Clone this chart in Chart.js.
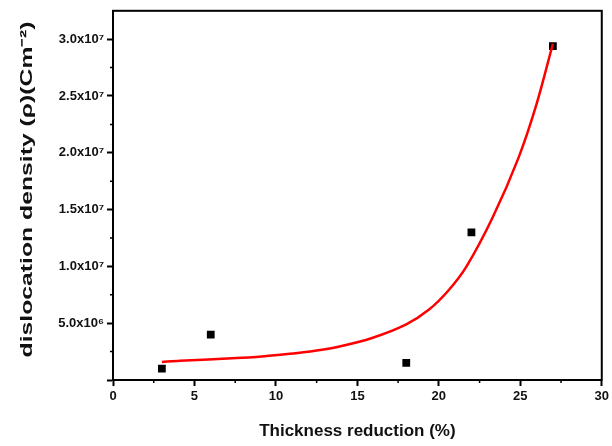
<!DOCTYPE html>
<html>
<head>
<meta charset="utf-8">
<script src="https://cdn.jsdelivr.net/npm/chart.js@4.4.0/dist/chart.umd.min.js"></script>
<style>
  html, body { margin: 0; padding: 0; background: #fff; }
  #wrap { width: 612px; height: 446px; }
</style>
</head>
<body>
<div id="wrap"><canvas id="grafico" width="612" height="446"></canvas></div>
<script>
// Pontos medidos (redução de espessura % x densidade de discordâncias)
const reducao = [3, 6, 18, 22, 27];
const densidade = [1.0e6, 4.0e6, 1.5e6, 1.3e7, 2.94e7];

// Curva de ajuste (vermelha)
const ajusteX = [3, 4.1, 7.6, 9.3, 10.7, 12.5, 13.9, 15.9, 18, 19.4, 20.6, 21.7, 23.3, 24.9, 26, 27];
const ajusteY = [1.58e6, 1.7e6, 1.93e6, 2.1e6, 2.28e6, 2.6e6, 2.95e6, 3.7e6, 4.9e6, 6.2e6, 7.9e6, 1.0e7, 1.43e7, 1.96e7, 2.43e7, 2.96e7];

// Tiques do eixo Y
const ticksY = [0, 5e6, 1e7, 1.5e7, 2e7, 2.5e7, 3e7];
const superscritos = { '6': '⁶', '7': '⁷' };
const tituloX = 'Thickness reduction (%)';
const tituloY = 'dislocation density (ρ)(Cm⁻²)';

const fonte = '"Liberation Sans", Arial, sans-serif';

// Formata 5.0x10⁶, 1.0x10⁷ ...
function formatarY(v) {
  if (v === 0) return '';
  const exp = Math.floor(Math.log10(v));
  const mant = (v / Math.pow(10, exp)).toFixed(1);
  return mant + 'x10' + superscritos[String(exp)];
}

// Moldura, tiques menores e título do eixo Y (esticado como no original)
const moldura = {
  id: 'moldura',
  afterDraw(chart) {
    const { ctx, chartArea: a, scales } = chart;
    ctx.save();
    ctx.strokeStyle = '#000';
    ctx.lineWidth = 2;
    ctx.strokeRect(a.left, a.top, a.right - a.left, a.bottom - a.top);
    ctx.lineWidth = 1.5;
    ctx.beginPath();
    for (let x = 2.5; x < 30; x += 5) {
      const px = scales.x.getPixelForValue(x);
      ctx.moveTo(px, a.bottom);
      ctx.lineTo(px, a.bottom + 3);
    }
    for (let y = 2.5e6; y < 3.25e7; y += 5e6) {
      const py = scales.y.getPixelForValue(y);
      ctx.moveTo(a.left, py);
      ctx.lineTo(a.left - 3, py);
    }
    ctx.stroke();

    // título Y
    ctx.font = 'bold 17px ' + fonte;
    ctx.fillStyle = '#111';
    ctx.textAlign = 'center';
    ctx.textBaseline = 'middle';
    const larg = ctx.measureText(tituloY).width;
    const esc = 336 / larg;
    ctx.translate(27, (a.top + a.bottom) / 2 - 6);
    ctx.rotate(-Math.PI / 2);
    ctx.scale(esc, 1);
    ctx.fillText(tituloY, 0, 0);
    ctx.restore();
  }
};

new Chart(document.getElementById('grafico'), {
  type: 'scatter',
  data: {
    datasets: [
      {
        type: 'line',
        data: ajusteX.map((x, i) => ({ x, y: ajusteY[i] })),
        borderColor: '#ff0000',
        borderWidth: 2.5,
        pointRadius: 0,
        tension: 0.3,
        fill: false
      },
      {
        data: reducao.map((x, i) => ({ x, y: densidade[i] })),
        backgroundColor: '#000',
        borderColor: '#000',
        pointStyle: 'rect',
        pointRadius: 5.5,
        borderWidth: 0
      }
    ]
  },
  options: {
    responsive: false,
    animation: false,
    layout: { padding: { top: 10, right: 10, left: 0, bottom: 0 } },
    plugins: {
      legend: { display: false },
      tooltip: { enabled: false }
    },
    scales: {
      x: {
        type: 'linear',
        min: 0,
        max: 30,
        afterFit(s) { s.height = 66; },
        ticks: { stepSize: 5, color: '#111', padding: 3, font: { family: fonte, size: 13, weight: 'bold' } },
        grid: { drawOnChartArea: false, tickLength: 6, tickWidth: 2, tickColor: '#000' },
        border: { color: '#000', width: 2 },
        title: { display: true, text: tituloX, color: '#111', padding: { top: 14 }, font: { family: fonte, size: 17, weight: 'bold' } }
      },
      y: {
        min: 0,
        max: 3.25e7,
        afterFit(s) { s.width = 113; },
        afterBuildTicks(s) { s.ticks = ticksY.map(v => ({ value: v })); },
        ticks: { color: '#111', padding: 3, callback: formatarY, font: { family: fonte, size: 13, weight: 'bold' } },
        grid: { drawOnChartArea: false, tickLength: 6, tickWidth: 2, tickColor: '#000' },
        border: { color: '#000', width: 2 }
      }
    }
  },
  plugins: [moldura]
});
</script>
</body>
</html>
